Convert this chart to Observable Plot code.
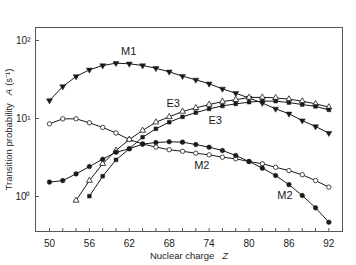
<!DOCTYPE html>
<html><head><meta charset="utf-8">
<script src="https://cdn.jsdelivr.net/npm/d3@7"></script>
<script src="https://cdn.jsdelivr.net/npm/@observablehq/plot@0.6"></script>
<style>body{margin:0;background:#fff} svg{display:block}</style>
</head><body><div id="chart"></div>
<script>
// ---- data ----
const zM1  = [50,52,54,56,58,60,62,64,66,68,70,72,74,76,78,80,82,84,86,88,90,92];
const aM1  = [17.0,25.7,34.6,42.1,47.8,51.2,50.3,47.8,44.1,39.7,34.9,31.3,27.9,24.0,21.1,18.3,15.8,13.3,11.5,9.4,7.9,6.5];
const zE3a = [54,56,58,60,62,64,66,68,70,72,74,76,78,80,82,84,86,88,90,92];
const aE3a = [0.89,1.60,2.63,3.89,5.38,7.02,8.97,10.5,12.3,13.7,15.1,16.5,17.4,18.6,18.7,18.4,17.7,16.7,15.4,14.0];
const zE3b = [56,58,60,62,64,66,68,70,72,74,76,78,80,82,84,86,88,90,92];
const aE3b = [1.01,1.82,2.95,4.09,5.76,7.38,8.97,10.5,11.9,13.3,14.5,15.4,16.2,16.7,16.7,16.0,15.1,14.3,12.9];
const zM2a = [50,52,54,56,58,60,62,64,66,68,70,72,74,76,78,80,82,84,86,88,90,92];
const aM2a = [8.55,9.91,9.91,8.81,7.69,6.52,5.38,4.71,4.31,3.98,3.80,3.59,3.42,3.19,3.04,2.81,2.63,2.37,2.15,1.90,1.60,1.32];
const zM2b = [50,52,54,56,58,60,62,64,66,68,70,72,74,76,78,80,82,84,86,88,90,92];
const aM2b = [1.53,1.60,1.95,2.42,3.01,3.69,4.09,4.70,4.92,5.03,4.98,4.64,4.29,3.89,3.36,2.81,2.31,1.86,1.42,1.03,0.716,0.468];

const xMajorTicks = [50,56,62,68,74,80,86,92];
const xMinorTicks = [50,52,54,56,58,60,62,64,66,68,70,72,74,76,78,80,82,84,86,88,90,92];
const yTicks = [1,10,100];
const yTickLabels = ["10⁰","10¹","10²"];

const curveLabels = ["M1","E3","E3","M2","M2"];
const curveLabelZ = [61.9,68.6,74.9,72.9,85.4];
const curveLabelA = [73,15.4,9.4,2.5,1.03];

const xTitle = "Nuclear charge";
const xTitleVar = "Z";
const yTitle = "Transition probability";
const yTitleVar = "A";
const yTitleUnit = "(s⁻¹)";

// ---- build rows ----
const rows = (zs, as) => zs.map((z, i) => ({z, a: as[i]}));
const M1 = rows(zM1, aM1), E3a = rows(zE3a, aE3a), E3b = rows(zE3b, aE3b), M2a = rows(zM2a, aM2a), M2b = rows(zM2b, aM2b);
const labels = curveLabels.map((t, i) => ({t, z: curveLabelZ[i], a: curveLabelA[i]}));

const ink = "#1a1a1a";
const line = (d) => Plot.line(d, {x: "z", y: "a", stroke: ink, strokeWidth: 1});

const chart = Plot.plot({
  width: 356, height: 265,
  marginLeft: 35, marginRight: 14, marginTop: 27, marginBottom: 34,
  style: {fontFamily: "'Liberation Sans', Arial, sans-serif", fontSize: "10px", color: "#222", background: "#fff"},
  x: {domain: [47.9, 94.05]},
  y: {type: "log", domain: [0.356, 146.8]},
  marks: [
    Plot.frame({stroke: "#555"}),
    Plot.axisX(xMinorTicks, {tickSize: -3, text: null, stroke: "#555", label: null}),
    Plot.axisX(xMajorTicks, {tickSize: 0, tickPadding: 8, label: null, fill: "#222"}),
    Plot.axisY(yTicks, {tickSize: -4, text: null, stroke: "#555", label: null}),
    Plot.axisY(yTicks, {tickSize: 0, tickPadding: 5, label: null, tickFormat: d => yTickLabels[yTicks.indexOf(d)], fill: "#222"}),
    line(M1), line(E3a), line(E3b), line(M2a), line(M2b),
    Plot.dot(M1, {x: "z", y: "a", symbol: "triangle", rotate: 180, r: 2.2, fill: ink, stroke: ink, strokeWidth: 0.5}),
    Plot.dot(E3a, {x: "z", y: "a", symbol: "triangle", r: 2.2, fill: "#fff", stroke: ink, strokeWidth: 0.8}),
    Plot.dot(E3b, {x: "z", y: "a", symbol: "square", r: 2.1, fill: ink, stroke: ink, strokeWidth: 0.5}),
    Plot.dot(M2a, {x: "z", y: "a", symbol: "circle", r: 2.2, fill: "#fff", stroke: ink, strokeWidth: 0.8}),
    Plot.dot(M2b, {x: "z", y: "a", symbol: "circle", r: 2.3, fill: ink, stroke: ink, strokeWidth: 0.5}),
    Plot.text(labels, {x: "z", y: "a", text: "t", fontSize: 11, fill: ink}),
    Plot.text([xTitle], {frameAnchor: "bottom", dy: 27, textAnchor: "middle", text: d => d, fontSize: 9.5, fill: "#222", className: "xtitle"}),
    Plot.text([yTitle], {frameAnchor: "left", dx: -27, rotate: -90, textAnchor: "middle", text: d => d, fontSize: 9.5, fill: "#222", className: "ytitle"})
  ]
});

document.getElementById("chart").appendChild(chart);

// rich text: italic variables
const NS = "http://www.w3.org/2000/svg";
function ts(parent, txt, attrs) {
  const t = document.createElementNS(NS, "tspan");
  for (const k in attrs) t.setAttribute(k, attrs[k]);
  t.textContent = txt;
  parent.appendChild(t);
  return t;
}
chart.querySelectorAll(".xtitle text").forEach(el => {
  el.textContent = "";
  ts(el, xTitle, {});
  ts(el, xTitleVar, {dx: "8", "font-style": "italic"});
});
chart.querySelectorAll(".ytitle text").forEach(el => {
  el.textContent = "";
  ts(el, yTitle, {});
  ts(el, yTitleVar, {dx: "8", "font-style": "italic"});
  ts(el, yTitleUnit, {dx: "3"});
});
</script>
</body></html>
